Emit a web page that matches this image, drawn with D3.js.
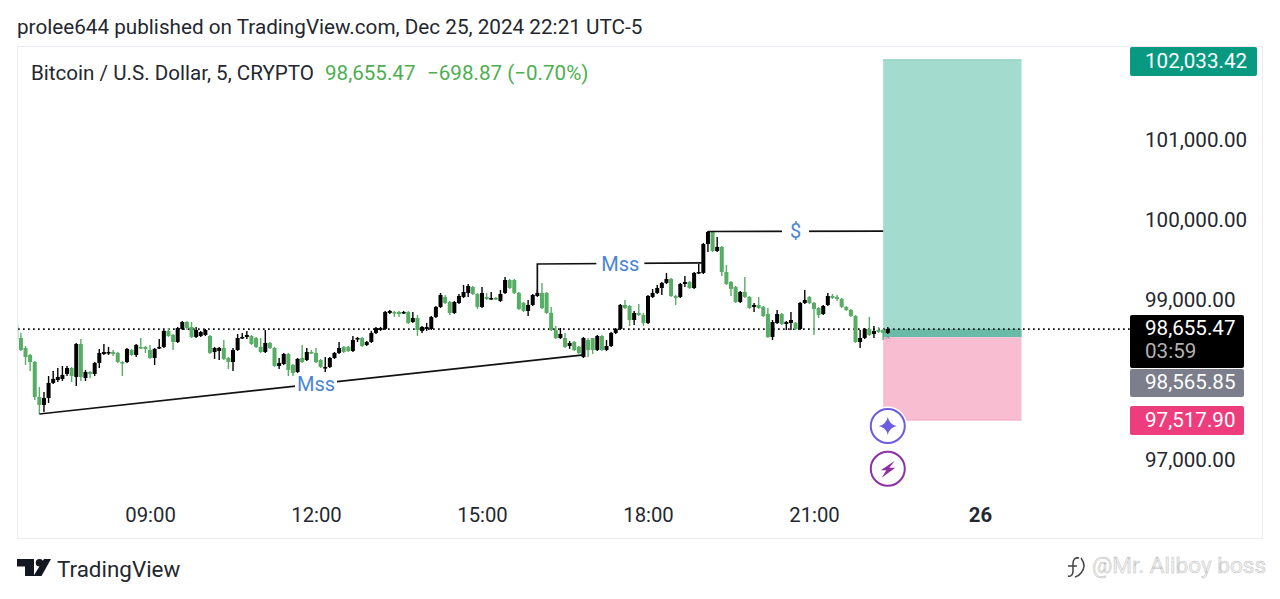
<!DOCTYPE html>
<html><head><meta charset="utf-8">
<script src="https://cdn.jsdelivr.net/npm/d3@7"></script>
<style>
html,body{margin:0;padding:0;background:#fff;overflow:hidden}
svg{display:block}
text{font-family:Roboto,sans-serif}
</style></head><body><svg id="c" width="1280" height="599"></svg>
<script>
const opens=[98707,98544,98419,98332,98244,97807,97707,97794,97982,98019,
98032,98094,98169,98057,98469,98044,98119,98094,98232,98344,
98357,98369,98357,98244,98244,98394,98332,98432,98432,98394,
98294,98419,98432,98632,98582,98494,98657,98744,98682,98557,
98569,98582,98569,98369,98382,98419,98294,98244,98394,98544,
98557,98569,98544,98432,98369,98482,98419,98194,98219,98344,
98207,98119,98294,98269,98369,98357,98269,98169,98182,98294,
98357,98432,98432,98382,98532,98544,98457,98494,98607,98644,
98657,98857,98869,98869,98857,98869,98744,98794,98632,98657,
98657,98807,98932,99057,98994,98857,98982,99057,99107,99182,
99094,98932,99057,99032,99044,99007,99107,99269,99269,99107,
98982,98882,98957,99069,99107,99107,98857,98644,98544,98544,
98444,98494,98432,98307,98519,98544,98394,98569,98394,98444,
98607,98657,98957,98944,98769,98857,98832,98732,99057,99107,
99169,99232,99282,99069,99057,99219,99244,99169,99357,99357,
99719,99869,99632,99682,99369,99244,99182,98994,99119,99057,
98932,98957,98932,98844,98557,98732,98844,98719,98732,98732,
98657,98982,99057,98982,98919,98844,98957,99069,99057,99032,
98932,98894,98819,98494,98544,98657,98594,98644,98644,98607];
const highs=[98707,98607,98444,98344,98257,97932,97869,98069,98132,98169,
98194,98194,98182,98482,98532,98144,98132,98244,98407,98469,
98432,98394,98369,98257,98419,98407,98469,98544,98444,98457,
98419,98532,98644,98669,98594,98682,98757,98757,98744,98682,
98632,98657,98582,98432,98432,98519,98307,98419,98594,98607,
98632,98582,98557,98544,98644,98494,98432,98294,98357,98357,
98219,98294,98457,98419,98394,98419,98282,98307,98307,98369,
98494,98444,98444,98569,98557,98557,98507,98632,98682,98682,
98882,98894,98882,98882,98882,98882,98869,98832,98694,98732,
98819,98944,99107,99082,99007,99007,99094,99207,99219,99194,
99107,99182,99107,99119,99057,99144,99307,99282,99282,99119,
98994,99019,99094,99144,99232,99119,98932,98694,98669,98607,
98507,98507,98444,98557,98544,98544,98582,98582,98519,98619,
98669,98969,99019,98957,98882,98969,98857,99082,99157,99207,
99244,99357,99294,99082,99232,99319,99257,99369,99469,99732,
99882,99882,99807,99694,99457,99257,99194,99132,99307,99069,
98982,99057,98944,98919,98769,98894,98857,98757,98869,98744,
98994,99144,99069,98994,98932,98957,99107,99094,99082,99044,
98944,98907,98832,98644,98669,98807,98694,98682,98657,98682];
const lows=[98532,98382,98207,98132,97769,97594,97619,97732,97969,97994,
98007,98069,97994,97944,98007,98007,98044,98069,98169,98332,
98332,98319,98232,98069,98232,98319,98307,98407,98357,98282,
98207,98407,98419,98557,98394,98482,98644,98644,98544,98544,
98557,98569,98344,98282,98269,98269,98157,98132,98382,98532,
98532,98457,98419,98357,98357,98407,98182,98157,98207,98069,
98069,98107,98232,98257,98344,98232,98169,98119,98169,98282,
98344,98357,98369,98369,98494,98432,98444,98482,98594,98632,
98644,98844,98807,98807,98844,98719,98732,98569,98607,98632,
98644,98794,98919,98969,98832,98844,98969,99044,99057,99082,
98907,98919,99019,99019,99019,98994,99094,99157,99094,98894,
98869,98819,98944,99057,98907,98844,98632,98532,98532,98419,
98407,98382,98344,98294,98307,98344,98382,98382,98382,98432,
98594,98644,98907,98694,98707,98819,98694,98719,99044,99094,
99082,99219,99057,98957,99044,99182,99157,99157,99344,99344,
99619,99619,99619,99319,99207,99069,98982,98982,99044,98907,
98869,98907,98807,98544,98519,98719,98707,98644,98644,98644,
98644,98969,98969,98582,98794,98832,98944,99032,99007,98919,
98882,98807,98482,98419,98532,98569,98544,98607,98519,98594];
const closes=[98532,98394,98307,98244,97807,97707,97794,97982,98032,98057,
98082,98169,98069,98469,98057,98119,98094,98232,98357,98369,
98369,98344,98244,98232,98407,98332,98457,98419,98407,98294,
98407,98432,98632,98569,98494,98669,98744,98669,98557,98644,
98619,98644,98357,98419,98419,98282,98244,98394,98544,98557,
98582,98469,98432,98369,98482,98419,98194,98232,98344,98144,
98107,98282,98244,98369,98357,98244,98182,98182,98294,98357,
98419,98369,98382,98519,98544,98444,98494,98607,98669,98669,
98869,98882,98857,98844,98869,98732,98794,98644,98682,98682,
98807,98932,99082,98982,98857,98994,99069,99119,99194,99094,
98932,99107,99032,99044,99032,99094,99269,99169,99107,98907,
98882,98957,99082,99107,98919,98857,98644,98544,98594,98432,
98482,98394,98357,98544,98394,98394,98569,98394,98444,98607,
98657,98957,98919,98769,98857,98832,98732,99069,99107,99169,
99232,99282,99069,99044,99219,99244,99169,99357,99369,99719,
99869,99632,99682,99369,99219,99157,98994,99119,99057,98919,
98957,98919,98819,98557,98744,98844,98719,98744,98769,98657,
98982,99019,98982,98907,98832,98944,99069,99044,99032,98932,
98894,98819,98494,98544,98657,98582,98632,98619,98607,98655.47];

const priceTicks=[97000,99000,100000,101000];
const timeTickIdx=[29,65,101,137,173,209];
const timeTickLabels=["09:00","12:00","15:00","18:00","21:00","26"];

const lastPrice=98655.47, entryPrice=98565.85, targetPrice=102033.42, stopPrice=97517.90;
const positionSpan=[188,218];
const mssRise=[[5,97594],[123,98332]];
const mssLabelRise={i:65,p:97969,t:"Mss"};
const mssBreak=[[113,99107],[113,99469],[149,99482]];
const mssLabelBreak={i:131,p:99475,t:"Mss"};
const dollarLine=[[150,99875],[188,99880]];
const dollarLabel={i:169,p:99878,t:"$"};

const GREEN="#56ad63",BLUE="#4a86cf",INK="#232730",FS=20.6;
const svg=d3.select("#c");
const x=d3.scaleLinear().domain([0,209]).range([16.3,980]);
const y=d3.scaleLinear().domain([97000,101000]).range([461.5,141.5]);

svg.append("defs").append("clipPath").attr("id","pane").append("rect")
  .attr("x",18).attr("y",47).attr("width",1112).attr("height",491);

// chart frame
svg.append("rect").attr("x",17.5).attr("y",46.5).attr("width",1245).attr("height",492)
  .attr("fill","#fff").attr("stroke","#e9ebf0");

// header
svg.append("text").attr("x",17).attr("y",34).attr("font-size",FS+0.1).attr("fill",INK)
  .text("prolee644 published on TradingView.com, Dec 25, 2024 22:21 UTC-5");
svg.append("text").attr("x",31).attr("y",80).attr("font-size",FS).attr("fill",INK)
  .text("Bitcoin / U.S. Dollar, 5, CRYPTO");
svg.append("text").attr("x",325).attr("y",80).attr("font-size",FS).attr("fill","#4caf50")
  .text("98,655.47");
svg.append("text").attr("x",427).attr("y",80).attr("font-size",FS).attr("fill","#4caf50")
  .text("−698.87 (−0.70%)");

const pane=svg.append("g").attr("clip-path","url(#pane)");

// long position box
const bx=x(positionSpan[0]), bw=x(positionSpan[1])-x(positionSpan[0]);
pane.append("rect").attr("x",bx).attr("y",y(targetPrice)+1).attr("width",bw)
  .attr("height",y(entryPrice)-y(targetPrice)).attr("fill","#a3dccf");
pane.append("rect").attr("x",bx).attr("y",y(lastPrice)).attr("width",bw)
  .attr("height",y(entryPrice)-y(lastPrice)+1).attr("fill","#69baa7");
pane.append("rect").attr("x",bx).attr("y",y(entryPrice)+1).attr("width",bw)
  .attr("height",y(stopPrice)-y(entryPrice)-1).attr("fill","#f9bdd2");
pane.append("line").attr("x1",bx).attr("x2",bx+bw).attr("y1",y(targetPrice)+1).attr("y2",y(targetPrice)+1)
  .attr("stroke","#7fcdbb");
pane.append("line").attr("x1",bx).attr("x2",bx+bw).attr("y1",y(stopPrice)).attr("y2",y(stopPrice))
  .attr("stroke","#efa6c0");

// last price line
pane.append("line").attr("x1",18).attr("x2",1130).attr("y1",y(lastPrice)).attr("y2",y(lastPrice))
  .attr("stroke","#111").attr("stroke-width",1.7).attr("stroke-dasharray","1.7 3.3");

// candles
const rows=d3.range(opens.length);
const colorOf=i=>closes[i]>=opens[i]?"#000":GREEN;
pane.append("g").selectAll("line").data(rows).join("line")
  .attr("x1",i=>x(i)).attr("x2",i=>x(i))
  .attr("y1",i=>y(highs[i])).attr("y2",i=>y(lows[i]))
  .attr("stroke",colorOf).attr("stroke-width",1.4);
const bodyW=4;
pane.append("g").selectAll("rect").data(rows).join("rect")
  .attr("x",i=>x(i)-bodyW/2).attr("width",bodyW)
  .attr("y",i=>y(Math.max(opens[i],closes[i])))
  .attr("height",i=>Math.max(1.6,Math.abs(y(opens[i])-y(closes[i]))))
  .attr("fill",colorOf);

// small marker under the last bar
const lastI=opens.length-1;
pane.append("path")
  .attr("transform",`translate(${x(lastI)},${y(entryPrice)})`)
  .attr("d","M-2,3 L0,0 L2,3").attr("fill","none").attr("stroke","#8a8d96").attr("stroke-width",1);

// drawings
const line=d3.line().x(d=>x(d[0])).y(d=>y(d[1]));
[mssRise,mssBreak,dollarLine].forEach(d=>{
  pane.append("path").attr("d",line(d)).attr("fill","none").attr("stroke","#111").attr("stroke-width",1.7);
});
[[mssLabelRise,42],[mssLabelBreak,48],[dollarLabel,27]].forEach(([l,w])=>{
  pane.append("rect").attr("x",x(l.i)-w/2).attr("y",y(l.p)-10).attr("width",w).attr("height",20).attr("fill","#fff");
  pane.append("text").attr("x",x(l.i)).attr("y",y(l.p)).attr("dy","0.36em")
    .attr("text-anchor","middle").attr("font-size",20).attr("fill",BLUE).text(l.t);
});

// icon buttons
const icons=[{p:97444,c:"#6c5ce0"},{p:96910,c:"#8e2fa6"}];
icons.forEach((ic,k)=>{
  const g=svg.append("g").attr("transform",`translate(${x(lastI)},${y(ic.p)})`);
  g.append("circle").attr("r",19.5).attr("fill","#fff");
  g.append("circle").attr("r",17).attr("fill","#fff").attr("stroke",ic.c).attr("stroke-width",2);
  if(k===0) g.append("path").attr("d","M0,-9 Q1.5,-1.5 9,0 Q1.5,1.5 0,9 Q-1.5,1.5 -9,0 Q-1.5,-1.5 0,-9Z").attr("fill",ic.c);
  else g.append("path").attr("d","M7,-8 L-7,1.5 L-1.5,1.5 L-6,9 L7.5,-1 L1.5,-1Z").attr("fill",ic.c);
});

// axes
const yAxis=d3.axisRight(y).tickValues(priceTicks).tickFormat(d3.format(",.2f")).tickSize(0).tickPadding(0);
const ya=svg.append("g").attr("transform","translate(1145,-1.5)").call(yAxis);
ya.select(".domain").remove();
ya.selectAll("text").attr("font-size",FS).attr("font-family","Roboto,sans-serif").attr("fill",INK);
const xAxis=d3.axisBottom(x).tickValues(timeTickIdx).tickFormat((d,i)=>timeTickLabels[i]).tickSize(0).tickPadding(0);
const xa=svg.append("g").attr("transform","translate(0,507.5)").call(xAxis);
xa.select(".domain").remove();
xa.selectAll("text").attr("font-size",20.3).attr("font-family","Roboto,sans-serif").attr("fill",INK)
  .attr("font-weight",(d,i)=>timeTickLabels[i]==="26"?700:400);

// price tags
const fmt=d3.format(",.2f");
[{p:targetPrice,y0:47,y1:76,w:127,c:"#089981"},{p:entryPrice,y0:369,y1:397,w:114,c:"#7c7e8b"},{p:stopPrice,y0:406,y1:435,w:114,c:"#ee3d7c"}]
.forEach(t=>{
  svg.append("rect").attr("x",1130).attr("y",t.y0).attr("width",t.w).attr("height",t.y1-t.y0).attr("rx",2).attr("fill",t.c);
  svg.append("text").attr("x",1145).attr("y",(t.y0+t.y1)/2-1).attr("dy","0.36em").attr("font-size",FS).attr("fill","#fff").text(fmt(t.p));
});
svg.append("rect").attr("x",1130).attr("y",315).attr("width",114).attr("height",53).attr("rx",2).attr("fill","#000");
svg.append("text").attr("x",1145).attr("y",328).attr("dy","0.36em").attr("font-size",FS).attr("fill","#fff").text(fmt(lastPrice));
svg.append("text").attr("x",1145).attr("y",351).attr("dy","0.36em").attr("font-size",FS).attr("fill","#b2b2b2").text("03:59");

// TradingView brand
const logo=svg.append("g").attr("fill","#131722");
logo.append("path").attr("d","M17,559 H34 V576 H25 V566.5 H17Z");
logo.append("circle").attr("cx",39.5).attr("cy",562.8).attr("r",3.8);
logo.append("path").attr("d","M44,559 H51 L41.5,576 H33.5Z");
svg.append("text").attr("x",57).attr("y",577).attr("font-size",22.4).attr("fill","#24272f").text("TradingView");

// watermark
svg.append("path").attr("d","M1079,558 Q1073,557 1073,564 V572 Q1072,577 1068,576 M1068,566 H1077 M1081,558 Q1087,566 1081,573 Q1079,576 1075,577")
  .attr("fill","none").attr("stroke","#444").attr("stroke-width",1.5);
svg.append("text").attr("x",1092).attr("y",573).attr("font-size",22.6)
  .attr("fill","#f2f2f2").attr("stroke","#c0c0c0").attr("stroke-width",0.5).text("@Mr. Aliboy boss");
</script></body></html>
